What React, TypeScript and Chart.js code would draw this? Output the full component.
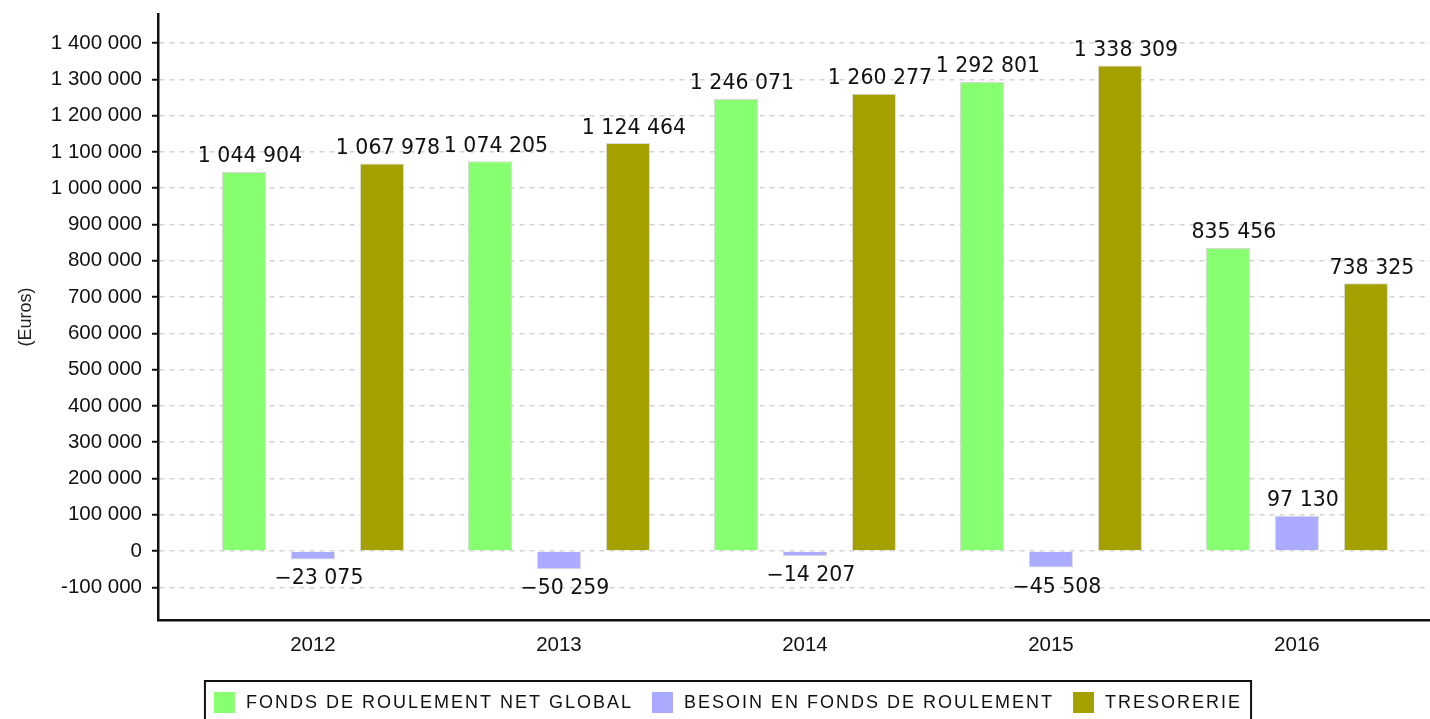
import React, { useEffect, useRef } from 'react';
import { Chart, registerables } from 'chart.js';

Chart.register(...registerables);

const years = ['2012', '2013', '2014', '2015', '2016'];
const fondsRoulement = [1044904, 1074205, 1246071, 1292801, 835456];
const besoinFonds = [-23075, -50259, -14207, -45508, 97130];
const tresorerie = [1067978, 1124464, 1260277, 1338309, 738325];
const seriesNames = ['FONDS DE ROULEMENT NET GLOBAL', 'BESOIN EN FONDS DE ROULEMENT', 'TRESORERIE'];
const seriesColors = ['#88ff70', '#aaaaff', '#a3a000'];
const yTicks = [
  -100000, 0, 100000, 200000, 300000, 400000, 500000, 600000, 700000,
  800000, 900000, 1000000, 1100000, 1200000, 1300000, 1400000,
];
const yMin = -190000;
const yMax = 1480000;
const xMin = -0.63;
const xMax = 4.541;

function group(n: number): string {
  return Math.abs(Math.round(n)).toString().replace(/\B(?=(\d{3})+(?!\d))/g, ' ');
}
function tickFmt(n: number): string {
  return (n < 0 ? '-' : '') + group(n);
}
function labelFmt(n: number): string {
  return (n < 0 ? '\u2212' : '') + group(n);
}

const valueLabels = {
  id: 'valueLabels',
  afterDatasetsDraw(chart: any) {
    const ctx = chart.ctx;
    ctx.save();
    ctx.font = '20.5px "DejaVu Sans"';
    ctx.fillStyle = '#111';
    ctx.textAlign = 'center';
    ctx.textBaseline = 'alphabetic';
    chart.data.datasets.forEach((ds: any, di: number) => {
      const meta = chart.getDatasetMeta(di);
      meta.data.forEach((bar: any, i: number) => {
        const v = ds.data[i].y;
        const y = v >= 0 ? bar.y - 9.5 : bar.y + 25;
        ctx.fillText(labelFmt(v), bar.x + 6, y);
      });
    });
    ctx.restore();
  },
};

const boxedLegend = {
  id: 'boxedLegend',
  afterDraw(chart: any) {
    const ctx = chart.ctx;
    ctx.save();
    ctx.font = '18px "Liberation Sans"';
    (ctx as any).letterSpacing = '2px';
    const sq = 21;
    const gapText = 11;
    const gapItem = 19;
    const padX = 9;
    const widths = seriesNames.map((n) => ctx.measureText(n).width);
    let inner = 0;
    widths.forEach((w, i) => {
      inner += sq + gapText + w + (i < widths.length - 1 ? gapItem : 0);
    });
    const boxW = inner + padX * 2;
    const cx = chart.width / 2 + 13;
    const left = cx - boxW / 2;
    const top = 681;
    const midY = 702.5;
    ctx.strokeStyle = '#111';
    ctx.lineWidth = 2;
    ctx.strokeRect(left, top, boxW, 46);
    let x = left + padX;
    ctx.textBaseline = 'middle';
    ctx.textAlign = 'left';
    seriesNames.forEach((n, i) => {
      ctx.fillStyle = seriesColors[i];
      ctx.fillRect(x, midY - sq / 2, sq, sq);
      ctx.fillStyle = '#111';
      ctx.fillText(n, x + sq + gapText, midY + 1);
      x += sq + gapText + widths[i] + gapItem;
    });
    ctx.restore();
  },
};

export default function App() {
  const ref = useRef<HTMLCanvasElement>(null);
  useEffect(() => {
    document.body.style.margin = '0';
    const seriesValues = [fondsRoulement, besoinFonds, tresorerie];
    const chart = new Chart(ref.current as HTMLCanvasElement, {
      type: 'bar',
      data: {
        datasets: seriesValues.map((vals, si) => ({
          label: seriesNames[si],
          data: vals.map((v, i) => ({ x: i, y: v })),
          backgroundColor: seriesColors[si],
          borderColor: 'rgba(200,200,200,0.7)',
          borderWidth: 1,
          categoryPercentage: 0.8415,
          barPercentage: 0.638,
        })),
      },
      options: {
        animation: false,
        responsive: false,
        devicePixelRatio: 1,
        layout: { padding: { top: 14, right: 0, left: 0, bottom: 0 } },
        plugins: {
          legend: { display: false },
          tooltip: { enabled: false },
          title: { display: false },
        },
        scales: {
          x: {
            type: 'linear',
            min: xMin,
            max: xMax,
            offset: false,
            afterBuildTicks: (scale: any) => {
              scale.ticks = years.map((_, i) => ({ value: i }));
            },
            afterFit: (scale: any) => {
              scale.height = 99;
              scale.paddingLeft = 0;
              scale.paddingRight = 0;
            },
            grid: { display: false },
            border: { display: true, color: '#111', width: 2.5 },
            ticks: {
              autoSkip: false,
              maxRotation: 0,
              padding: 5,
              color: '#111',
              font: { family: '"Liberation Sans"', size: 20.5 },
              callback: (v: any) => years[Math.round(v)] ?? '',
            },
          },
          y: {
            type: 'linear',
            min: yMin,
            max: yMax,
            afterBuildTicks: (scale: any) => {
              scale.ticks = yTicks.map((v) => ({ value: v }));
            },
            afterFit: (scale: any) => {
              scale.width = 158;
              scale.paddingTop = 0;
              scale.paddingBottom = 0;
            },
            title: {
              display: true,
              text: '(Euros)',
              color: '#222',
              font: { family: '"Liberation Sans"', size: 18 },
              padding: { top: 15, bottom: 0 },
            },
            grid: {
              display: true,
              color: '#d4d4d4',
              lineWidth: 1.5,
              tickColor: '#111',
              tickLength: 6,
              tickWidth: 2,
            },
            border: { display: true, color: '#111', width: 2.5, dash: [5, 5] },
            ticks: {
              padding: 10,
              color: '#111',
              font: { family: '"Liberation Sans"', size: 20.5 },
              callback: (v: any) => tickFmt(Number(v)),
            },
          },
        },
      },
      plugins: [valueLabels, boxedLegend],
    });
    return () => chart.destroy();
  }, []);
  return (
    <div style={{ width: 1430, height: 719 }}>
      <canvas ref={ref} width={1430} height={719} />
    </div>
  );
}
